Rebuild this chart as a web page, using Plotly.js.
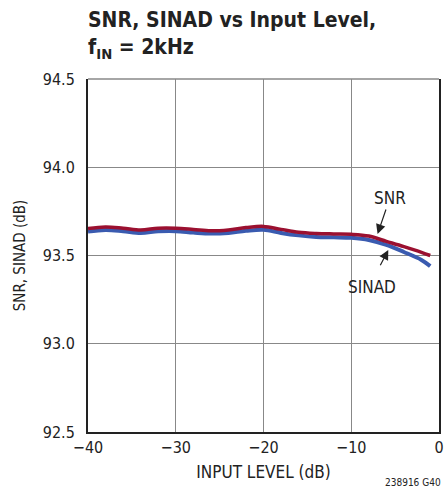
<!DOCTYPE html>
<html>
<head>
<meta charset="utf-8">
<script src="https://cdn.plot.ly/plotly-3.0.1.min.js"></script>
<style>html,body{margin:0;padding:0;background:#fff;}#chart{width:448px;height:491px;}</style>
</head>
<body>
<div id="chart"></div>
<script>
const inputLevel = [-40, -38, -36, -34, -32, -30, -28, -26, -24, -22, -20, -18, -16, -14, -12, -10, -8, -6, -4, -2, -1];
const snr   = [93.653, 93.662, 93.655, 93.645, 93.655, 93.655, 93.648, 93.640, 93.645, 93.658, 93.665, 93.648, 93.632, 93.625, 93.622, 93.620, 93.610, 93.580, 93.550, 93.518, 93.500];
const sinad = [93.636, 93.645, 93.638, 93.628, 93.637, 93.638, 93.630, 93.624, 93.628, 93.640, 93.646, 93.628, 93.614, 93.605, 93.603, 93.600, 93.588, 93.560, 93.520, 93.475, 93.440];
const xTicks = [-40, -30, -20, -10, 0];
const yTicks = [92.5, 93.0, 93.5, 94.0, 94.5];
const yTickText = ['92.5', '93.0', '93.5', '94.0', '94.5'];

const FONT = '"DejaVu Sans Condensed", "Liberation Sans Narrow", "Liberation Sans", Arial, sans-serif';

const traces = [
  {x: inputLevel, y: sinad, mode: 'lines', name: 'SINAD', line: {color: '#3a5bb0', width: 4, shape: 'spline'}, hoverinfo: 'skip'},
  {x: inputLevel, y: snr, mode: 'lines', name: 'SNR', line: {color: '#9b1030', width: 3.5, shape: 'spline'}, hoverinfo: 'skip'}
];

const layout = {
  width: 448, height: 491,
  margin: {l: 88, r: 9, t: 79, b: 59},
  paper_bgcolor: '#fff', plot_bgcolor: '#fff',
  showlegend: false,
  font: {family: FONT, color: '#222', size: 16},
  title: {
    text: '<b>SNR, SINAD vs Input Level,<br>f<sub>IN</sub> = 2kHz</b>',
    x: 0, xref: 'paper', xanchor: 'left',
    y: 0.945, yref: 'container', yanchor: 'bottom',
    font: {family: FONT, size: 21, color: '#222'}
  },
  xaxis: {
    range: [-40, 0], tickvals: xTicks, ticks: '', showgrid: true, gridcolor: '#888', gridwidth: 1,
    showline: true, linecolor: '#222', linewidth: 2, zeroline: false,
    tickfont: {size: 16, family: FONT, color: '#222'},
    title: {text: 'INPUT LEVEL (dB)', font: {size: 17, family: FONT, color: '#222'}, standoff: 10}
  },
  yaxis: {
    range: [92.5, 94.5], tickvals: yTicks, ticktext: yTickText, ticks: '', showgrid: true, gridcolor: '#888', gridwidth: 1,
    showline: true, mirror: true, linecolor: '#222', linewidth: 2, zeroline: false, ticklabelstandoff: 8,
    tickfont: {size: 16, family: FONT, color: '#222'},
    title: {text: 'SNR, SINAD (dB)', font: {size: 15, family: FONT, color: '#222'}, standoff: 14}
  },
  shapes: [
    {type: 'line', xref: 'paper', yref: 'paper', x0: 0, x1: 1, y0: 1, y1: 1, line: {color: '#888', width: 1.5}}
  ],
  annotations: [
    {x: -7.0, y: 93.622, xref: 'x', yref: 'y', ax: 12.3, ay: -36, text: 'SNR', showarrow: true,
     arrowhead: 2, arrowsize: 1.6, arrowwidth: 1.2, arrowcolor: '#222', font: {size: 17, family: FONT, color: '#222'}},
    {x: -5.78, y: 93.531, xref: 'x', yref: 'y', ax: -16.6, ay: 31.7, text: 'SINAD', showarrow: true, height: 30, valign: 'bottom',
     arrowhead: 2, arrowsize: 1.6, arrowwidth: 1.2, arrowcolor: '#222', font: {size: 17, family: FONT, color: '#222'}},
    {x: 1, y: -0.143, xref: 'paper', yref: 'paper', xanchor: 'right', yanchor: 'middle', text: '238916 G40', showarrow: false,
     font: {size: 10, family: FONT, color: '#222'}, xshift: 4}
  ]
};

Plotly.newPlot('chart', traces, layout, {displayModeBar: false, staticPlot: true});
</script>
</body>
</html>
